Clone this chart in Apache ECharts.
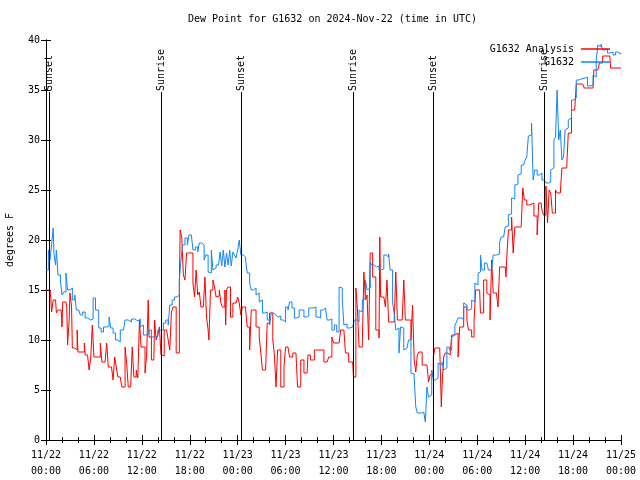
<!DOCTYPE html>
<html>
<head>
<meta charset="utf-8">
<script src="https://cdn.jsdelivr.net/npm/echarts@6/dist/echarts.min.js"></script>
<style>html,body{margin:0;padding:0;background:#fff;}#c{width:640px;height:480px;}</style>
</head>
<body>
<div id="c"></div>
<script>
// hours since 2024-11-22 00:00 UTC, dew point (deg F)
const analysisData = [[0.0,15],[0.5,15],[0.6,14.2],[0.7,12.8],[0.9,14],[1.2,14],[1.3,12.7],[1.5,13],[1.9,13],[2.0,11.3],[2.1,13.8],[2.5,13.8],[2.6,13.3],[2.7,9.5],[2.9,12],[3.0,14.7],[3.2,13.3],[3.3,9.2],[3.6,9.2],[3.8,9],[3.9,11],[4.0,8.8],[4.5,8.8],[4.8,9.7],[4.9,8.5],[5.2,8.3],[5.4,7],[5.6,8.2],[5.8,11.5],[6.0,8.3],[6.3,8.3],[6.8,9.7],[7.0,7.8],[7.4,7.8],[7.6,9.7],[7.8,7.3],[8.2,7.3],[8.4,6],[8.6,8.3],[8.8,7.3],[9.0,6.3],[9.3,6.3],[9.5,5.3],[9.9,9.3],[10.1,7.7],[10.3,5.3],[10.6,5.3],[10.8,9.3],[11.0,6.3],[11.3,7],[11.5,6.2],[11.7,12],[11.9,9.3],[12.1,9.3],[12.4,6.7],[12.6,8.5],[12.8,14],[12.9,10.3],[13.2,8],[13.5,8.2],[13.6,12],[13.8,10],[14.0,10.5],[14.2,11.3],[14.4,8.5],[14.6,8.4],[14.8,11],[15.1,11.2],[15.3,10],[15.5,9],[15.7,12.7],[15.9,13.3],[16.1,13.3],[16.3,8.7],[16.5,8.7],[16.7,15.7],[16.8,21],[17.0,20.3],[17.2,16.5],[17.4,16],[17.6,18.7],[18.0,18.7],[18.2,18.7],[18.4,15.7],[18.6,14.3],[18.8,17],[19.0,14.5],[19.2,14.8],[19.4,13.3],[19.7,13.5],[19.9,16.3],[20.1,12.3],[20.3,11],[20.4,10],[20.6,15],[20.9,16],[21.1,15.3],[21.3,14.3],[21.5,14.4],[21.7,15],[21.9,13.7],[22.1,13.3],[22.4,15],[22.5,11.5],[22.6,15],[22.8,15.3],[23.1,12.3],[23.4,13.7],[23.8,13.7],[24.0,14.3],[24.2,13.7],[24.4,12.5],[24.6,13.3],[25.0,13],[25.2,11.3],[25.5,9],[25.7,13],[26.0,13],[26.3,11.3],[26.5,11.3],[26.7,10.3],[26.9,8.7],[27.1,7],[27.5,7],[27.7,11.7],[28.0,12.7],[28.2,12.7],[28.4,10],[28.6,8.5],[28.8,5.3],[29.0,9],[29.2,9],[29.4,5.3],[29.6,5.3],[29.8,7.3],[30.0,9.3],[30.3,9.3],[30.5,8.3],[30.9,8.7],[31.3,8.7],[31.5,5.3],[31.7,5.3],[31.9,8],[32.1,8],[32.3,6.7],[32.7,6.7],[32.8,8.5],[33.1,8],[33.6,9],[34.0,9],[34.5,9],[34.8,7.8],[35.2,7.8],[35.4,8.3],[35.8,10.3],[36.0,9.7],[36.7,9.7],[36.9,11],[37.3,11],[37.5,8.7],[37.9,7.8],[38.4,7.8],[38.5,6.3],[38.8,15.2],[39.0,13],[39.2,9.3],[39.6,9.3],[39.8,16.8],[40.0,14],[40.2,14.5],[40.4,10],[40.6,18.7],[40.9,16.3],[41.1,16.3],[41.3,11],[41.5,11],[41.7,10.2],[41.8,20.3],[41.9,14.3],[42.3,14.3],[42.5,13.3],[42.7,16],[42.9,11.8],[43.6,11.8],[43.8,16.8],[44.0,12],[44.6,12],[44.8,16],[45.0,12],[45.4,12],[45.7,10],[45.9,13.5],[46.1,8],[46.3,6.8],[46.5,8.5],[46.7,8.8],[46.9,8.8],[47.1,7.5],[47.7,7.5],[47.9,5.8],[48.1,6.5],[48.3,6.7],[48.5,8.3],[48.7,9.2],[49.3,9.2],[49.5,3.3],[49.6,5.5],[49.8,8.3],[50.0,8.7],[50.3,8.5],[50.6,8.7],[50.8,10.5],[51.2,10.7],[51.4,10.7],[51.6,8.3],[51.8,11.3],[52.0,11.3],[52.3,13.3],[52.5,13.3],[52.7,12],[52.9,11],[53.1,11],[53.3,10.3],[53.5,10.3],[53.6,12],[53.8,15],[54.3,15],[54.4,12.7],[54.6,12.7],[54.8,16],[55.0,16],[55.2,14.7],[55.4,14.5],[55.6,12],[55.8,18],[56.0,14.7],[56.4,14.7],[56.6,13.3],[56.8,17.3],[57.5,17.3],[57.6,16.3],[57.7,18.3],[57.9,21],[58.1,21],[58.3,22.3],[58.5,18.7],[58.7,21.3],[59.5,21.3],[59.7,25.2],[59.9,24],[60.2,23.5],[60.5,23.5],[60.7,23.7],[61.1,22.4],[61.3,22.4],[61.5,20.5],[61.7,23.7],[62.0,23.7],[62.1,23],[62.3,22.5],[62.6,25.4],[62.8,21.7],[63.0,25],[63.2,24.7],[63.4,22.7],[63.6,22.7],[63.8,25],[64.0,24.7],[64.4,24.7],[64.6,27.2],[65.2,27.2],[65.4,30.7],[65.6,30.7],[65.8,33],[66.2,33.2],[66.4,35.6],[67.2,35.6],[67.4,35.2],[68.5,35.2],[68.6,37],[69.1,37],[69.3,37.7],[69.7,38.4],[70.6,38.4],[70.7,37.2],[72.0,37.2]];

const observedData = [[0.0,17],[0.3,19],[0.5,18],[0.7,19.5],[0.9,21.2],[1.0,18.5],[1.2,17.5],[1.3,19],[1.5,16.5],[1.8,16],[2.0,14.5],[2.2,14.8],[2.5,16.7],[2.7,15],[3.0,15.2],[3.3,14],[3.6,14.5],[3.8,13],[4.1,13.2],[4.3,12.5],[4.6,12.8],[4.9,12.2],[5.2,12],[5.6,12.1],[5.9,14.2],[6.2,13],[6.6,11.2],[6.9,10.8],[7.2,11.3],[7.6,11.4],[7.9,12.3],[8.1,11.2],[8.4,10.7],[8.7,10],[9.0,9.8],[9.3,11],[9.7,10.8],[9.9,12],[10.3,11.8],[10.7,12.1],[11.1,11.9],[11.5,12.1],[11.8,11.3],[12.0,11.5],[12.2,10.5],[12.6,10.6],[12.9,11],[13.2,10.3],[13.6,10.4],[14.0,11],[14.4,11],[14.7,11.7],[15.0,12],[15.3,11.5],[15.5,13.5],[15.8,14],[16.1,14.3],[16.4,14.5],[16.7,16],[16.9,18],[17.1,19.5],[17.4,20.2],[17.7,19.5],[17.9,20.5],[18.2,20.5],[18.4,19],[18.7,19.3],[19.0,18.8],[19.2,19.7],[19.5,19.5],[19.8,18],[20.0,18.5],[20.3,16.8],[20.5,16.7],[20.7,19],[20.9,17],[21.1,17.2],[21.3,17.5],[21.6,17.6],[21.8,18.8],[22.0,17.4],[22.2,19],[22.4,17.3],[22.6,18.7],[22.8,17.5],[23.0,19],[23.2,17.4],[23.4,18.8],[23.6,18.5],[23.8,18.2],[24.0,19],[24.2,20],[24.4,18.5],[24.7,18.3],[25.0,18],[25.2,16.7],[25.5,15.7],[25.7,15],[26.0,15.2],[26.3,14.5],[26.5,14.7],[26.7,13.8],[26.9,14],[27.1,12.7],[27.4,12.8],[27.7,12],[28.0,11.5],[28.2,12.7],[28.5,12.5],[28.8,12.3],[29.1,12.4],[29.4,12],[29.7,11.8],[30.0,13.3],[30.3,13],[30.5,13.8],[30.8,13.2],[31.1,12.2],[31.4,12.3],[31.7,13],[32.0,13],[32.3,12.3],[32.6,12.4],[32.9,13.2],[33.2,13.2],[33.5,13.3],[33.8,12.3],[34.1,12.2],[34.4,13],[34.7,13.2],[35.0,13],[35.2,12],[35.5,12.1],[35.8,11],[36.1,11.5],[36.4,10.8],[36.7,15.3],[36.9,15.2],[37.1,14],[37.3,11.5],[37.5,11.6],[37.7,11.2],[38.0,11.3],[38.4,11.2],[38.6,12],[38.9,11.8],[39.2,13],[39.4,12.8],[39.6,14],[39.8,14.2],[40.0,16],[40.2,15],[40.4,15.2],[40.6,17.8],[40.8,17.5],[41.1,17.3],[41.4,17.4],[41.7,17],[42.0,17.1],[42.3,18.5],[42.6,18.3],[42.9,18.6],[43.1,17],[43.4,13.7],[43.6,12.7],[43.8,11],[44.0,11.2],[44.2,8.7],[44.4,11.3],[44.6,11.2],[44.8,9],[45.0,9.2],[45.2,9],[45.4,10],[45.7,6.7],[45.9,6.6],[46.1,6.3],[46.3,3.3],[46.5,2.7],[47.0,2.8],[47.3,2.7],[47.5,1.8],[47.7,5.3],[47.9,4.3],[48.1,4.5],[48.3,7],[48.5,6],[48.8,6.2],[49.1,7.7],[49.3,7.5],[49.6,7.8],[49.8,7],[50.0,7.2],[50.2,9.3],[50.5,9],[50.8,10.3],[51.0,10.5],[51.2,11.5],[51.4,11.8],[51.6,12.2],[52.0,12.1],[52.3,13.7],[52.5,13.5],[52.7,13],[53.0,13.1],[53.3,14],[53.5,13.8],[53.7,15.7],[53.9,15.5],[54.1,16.7],[54.3,16.8],[54.4,18.5],[54.6,17],[54.9,17.7],[55.2,17.6],[55.4,17],[55.8,17.1],[56.0,18.5],[56.4,18.6],[56.8,19.8],[57.0,20.3],[57.3,20.4],[57.5,21.3],[57.7,21.4],[57.9,22.5],[58.1,22.6],[58.3,24.2],[58.5,24.1],[58.7,25.5],[58.9,25.6],[59.1,26.5],[59.3,26.6],[59.5,27.5],[59.8,27.4],[60.0,28],[60.2,28.3],[60.4,30.4],[60.6,30.5],[60.8,31.7],[61.0,26],[61.2,27],[61.5,26.5],[61.8,26.7],[62.1,26],[62.4,26.2],[62.6,25.7],[62.9,25.8],[63.2,27],[63.4,27.2],[63.6,30],[63.8,30.3],[64.0,35],[64.2,30],[64.4,31],[64.6,28],[64.8,28.3],[65.0,31],[65.2,31.2],[65.4,32],[65.6,32.2],[65.8,34],[66.1,34.2],[66.4,36],[66.7,36.1],[67.0,36],[67.2,36.2],[67.5,36.3],[67.8,35.4],[68.1,35.5],[68.5,36.5],[68.7,36.3],[68.9,38],[69.1,39.5],[69.3,39.3],[69.5,39.6],[69.7,39],[70.0,39.1],[70.3,38.7],[70.6,38.8],[71.0,38.5],[71.3,38.8],[71.6,38.6],[72.0,38.7]];

const eventNames = ['Sunset','Sunrise','Sunset','Sunrise','Sunset','Sunrise'];
const eventHours = [0.38, 14.44, 24.42, 38.49, 48.5, 62.44];
const eventTop = 34.8;
const dayLabels = ['11/22','11/23','11/24','11/25'];
const yTicks = [0,5,10,15,20,25,30,35,40];

const FONT = '"DejaVu Sans Mono", "Liberation Mono", monospace';
const chart = echarts.init(document.getElementById('c'), null, {renderer:'canvas'});

function fmtX(h){
  const d = Math.floor(h/24), hr = Math.round(h - d*24);
  return dayLabels[d] + '\n' + (hr<10?'0':'') + hr + ':00';
}
const eventLines = eventHours.map(h => [{coord:[h,0]},{coord:[h,eventTop]}]);

const axisCommon = {
  axisLine:{show:true, lineStyle:{color:'#000', width:1}},
  splitLine:{show:false}
};

chart.setOption({
  animation:false,
  backgroundColor:'#fff',
  title:{text:'Dew Point for G1632 on 2024-Nov-22 (time in UTC)', left:188, top:14, padding:0,
    textStyle:{fontFamily:FONT, fontSize:10, fontWeight:'normal', color:'#000'}},
  grid:{left:46, right:19, top:40, bottom:40, containLabel:false, outerBoundsMode:'none'},
  legend:[
    {data:['G1632 Analysis'], right:30, top:44, orient:'vertical', align:'right', itemWidth:29, itemHeight:1.5, itemGap:0, icon:'rect', padding:0,
      textStyle:{fontFamily:FONT, fontSize:10, color:'#000', padding:[0,2,0,0]}},
    {data:['G1632'], right:30, top:57, orient:'vertical', align:'right', itemWidth:29, itemHeight:1.5, itemGap:0, icon:'rect', padding:0,
      textStyle:{fontFamily:FONT, fontSize:10, color:'#000', padding:[0,2,0,0]}}
  ],
  xAxis:[
    Object.assign({type:'value', min:0, max:72, interval:6, position:'bottom',
      axisTick:{show:true, inside:true, length:5, lineStyle:{color:'#000'}},
      minorTick:{show:true, splitNumber:3, length:3, lineStyle:{color:'#000'}},
      axisLabel:{formatter:fmtX, fontFamily:FONT, fontSize:10, color:'#000', lineHeight:16, margin:7}}, axisCommon),
    Object.assign({type:'value', min:0, max:72, interval:6, position:'top',
      axisTick:{show:true, inside:true, length:5, lineStyle:{color:'#000'}},
      minorTick:{show:true, splitNumber:3, length:3, lineStyle:{color:'#000'}},
      axisLabel:{show:false}}, axisCommon)
  ],
  yAxis:[
    Object.assign({type:'value', min:0, max:40, interval:5, position:'left',
      name:'degrees F', nameLocation:'middle', nameRotate:90, nameGap:31,
      nameTextStyle:{fontFamily:FONT, fontSize:10, color:'#000'},
      axisTick:{show:true, inside:true, length:5, lineStyle:{color:'#000'}},
      axisLabel:{fontFamily:FONT, fontSize:10, color:'#000', margin:6,
        formatter: v => yTicks.indexOf(v) >= 0 ? String(v) : ''}}, axisCommon),
    Object.assign({type:'value', min:0, max:40, interval:5, position:'right',
      axisTick:{show:true, inside:true, length:5, lineStyle:{color:'#000'}},
      axisLabel:{show:false}}, axisCommon)
  ],
  series:[
    {name:'G1632 Analysis', type:'line', step:'end', data:analysisData, showSymbol:false, symbol:'none',
      lineStyle:{color:'#ff0000', width:1}, itemStyle:{color:'#ff0000'},
      markLine:{silent:true, symbol:['none','none'], label:{show:false},
        lineStyle:{color:'#000', width:1, type:'solid'}, data:eventLines}},
    {name:'G1632', type:'line', step:'end', data:observedData, showSymbol:false, symbol:'none',
      lineStyle:{color:'#1585f5', width:1}, itemStyle:{color:'#1585f5'}}
  ]
});

// rotated event labels anchored at the top of each event line (positions via axis scales)
const labelGraphics = eventHours.map((h,i) => {
  const p = chart.convertToPixel({xAxisIndex:0, yAxisIndex:0}, [h, eventTop]);
  return {type:'text', x:p[0], y:p[1]-1, rotation:Math.PI/2, z:100,
    style:{text:eventNames[i], fontFamily:FONT, fontSize:10, fill:'#000', textAlign:'left', textVerticalAlign:'middle'}};
});
chart.setOption({graphic:labelGraphics});
</script>
</body>
</html>
